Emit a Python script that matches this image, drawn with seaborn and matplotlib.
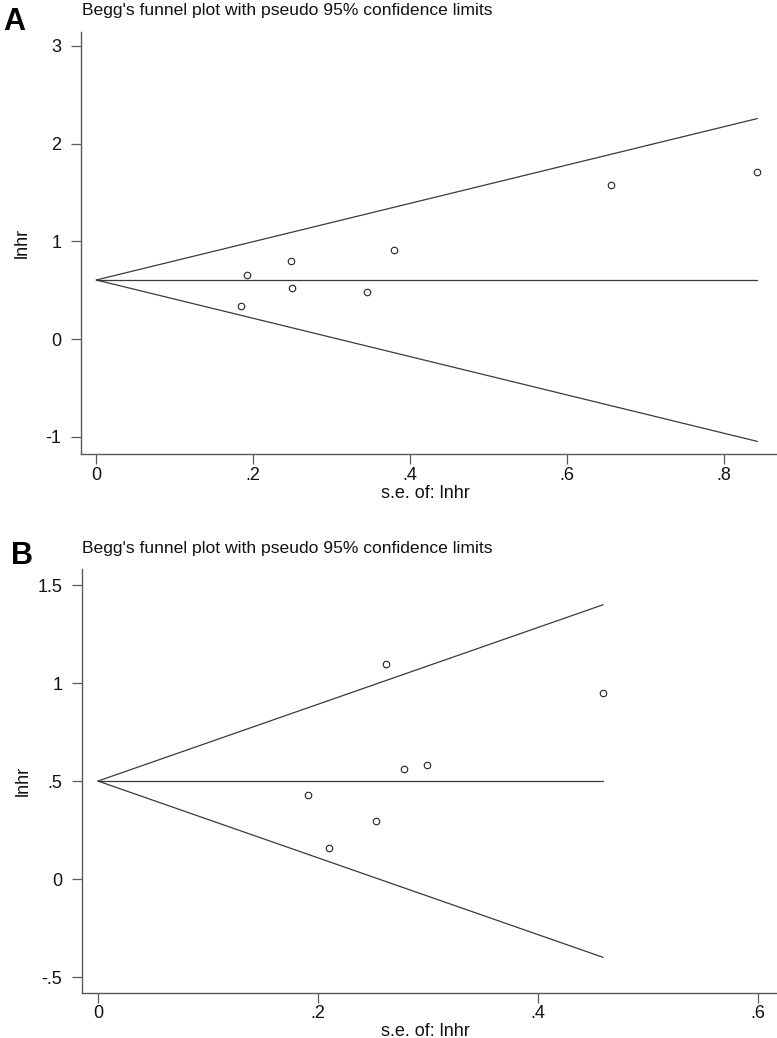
import numpy as np
import pandas as pd
import matplotlib
matplotlib.use('Agg')
from matplotlib import pyplot as plt
import seaborn as sns

# Panel A: study estimates
se_a = [0.184, 0.192, 0.248, 0.249, 0.345, 0.379, 0.656, 0.843]
lnhr_a = [0.341, 0.652, 0.798, 0.519, 0.484, 0.914, 1.576, 1.712]
pooled_a = 0.604
yticks_a = [-1, 0, 1, 2, 3]
ylabels_a = ['-1', '0', '1', '2', '3']
xticks_a = [0, 0.2, 0.4, 0.6, 0.8]
xlabels_a = ['0', '.2', '.4', '.6', '.8']

# Panel B
se_b = [0.191, 0.210, 0.253, 0.262, 0.278, 0.299, 0.459]
lnhr_b = [0.430, 0.157, 0.297, 1.095, 0.560, 0.582, 0.947]
pooled_b = 0.5
yticks_b = [-0.5, 0, 0.5, 1, 1.5]
ylabels_b = ['-.5', '0', '.5', '1', '1.5']
xticks_b = [0, 0.2, 0.4, 0.6]
xlabels_b = ['0', '.2', '.4', '.6']

title = "Begg's funnel plot with pseudo 95% confidence limits"

sns.set_style('ticks')
plt.rcParams['font.family'] = ['Liberation Sans', 'DejaVu Sans']

W, H = 777, 1038
fig = plt.figure(figsize=(W / 100, H / 100), dpi=100)

line_col = '#3a3a3a'
axis_col = '#5a5a5a'
txt_col = '#111111'


def funnel(ax, se, lnhr, pooled, xlim, ylim, xticks, xlabels, yticks, ylabels):
    se_max = max(se)
    # pseudo 95% limits and pooled estimate
    lines = pd.DataFrame({
        'x': [0, se_max, 0, se_max, 0, se_max],
        'y': [pooled, pooled + 1.96 * se_max,
              pooled, pooled - 1.96 * se_max,
              pooled, pooled],
        'g': ['up', 'up', 'lo', 'lo', 'mid', 'mid'],
    })
    sns.lineplot(data=lines, x='x', y='y', units='g', estimator=None, sort=False,
                 color=line_col, lw=0.9, ax=ax)
    df = pd.DataFrame({'se': se, 'lnhr': lnhr})
    sns.scatterplot(data=df, x='se', y='lnhr', ax=ax, s=22, marker='o',
                    facecolor='white', edgecolor='#222222', linewidth=0.8, zorder=3)
    ax.set_xlim(*xlim)
    ax.set_ylim(*ylim)
    ax.set_xticks(xticks)
    ax.set_xticklabels(xlabels)
    ax.set_yticks(yticks)
    ax.set_yticklabels(ylabels)
    sns.despine(ax=ax)
    for s in ['left', 'bottom']:
        ax.spines[s].set_color(axis_col)
        ax.spines[s].set_linewidth(1.0)
    ax.tick_params(axis='both', direction='out', length=7.5, width=0.9,
                   bottom=True, left=True,
                   color=axis_col, labelsize=13, labelcolor=txt_col)
    ax.tick_params(axis='x', pad=1.5)
    ax.tick_params(axis='y', pad=6.5)
    ax.set_xlabel('s.e. of: lnhr', fontsize=13, color=txt_col)
    ax.set_ylabel('lnhr', fontsize=13, color=txt_col)


axA = fig.add_axes([81 / W, 1 - 454.3 / H, 696 / W, 422.6 / H])
funnel(axA, se_a, lnhr_a, pooled_a, (-0.0195, 0.868), (-1.18, 3.145),
       xticks_a, xlabels_a, yticks_a, ylabels_a)
axA.xaxis.set_label_coords(0.495, -0.072)
axA.yaxis.set_label_coords(-0.072, 0.5)

axB = fig.add_axes([81.7 / W, 1 - 992.7 / H, 695.3 / W, 423.7 / H])
funnel(axB, se_b, lnhr_b, pooled_b, (-0.0148, 0.617), (-0.58, 1.582),
       xticks_b, xlabels_b, yticks_b, ylabels_b)
axB.xaxis.set_label_coords(0.495, -0.071)
axB.yaxis.set_label_coords(-0.072, 0.5)

# titles and panel letters
fig.text(82 / W, 1 - 15 / H, title, fontsize=12.6, va='baseline', ha='left', color=txt_col)
fig.text(82 / W, 1 - 553 / H, title, fontsize=12.6, va='baseline', ha='left', color=txt_col)
fig.text(3 / W, 1 - 30 / H, 'A', fontsize=22, fontweight='bold', va='baseline', ha='left',
         color='black')
fig.text(11 / W, 1 - 564 / H, 'B', fontsize=22, fontweight='bold', va='baseline', ha='left',
         color='black')

fig.savefig('out.png', dpi=100)
